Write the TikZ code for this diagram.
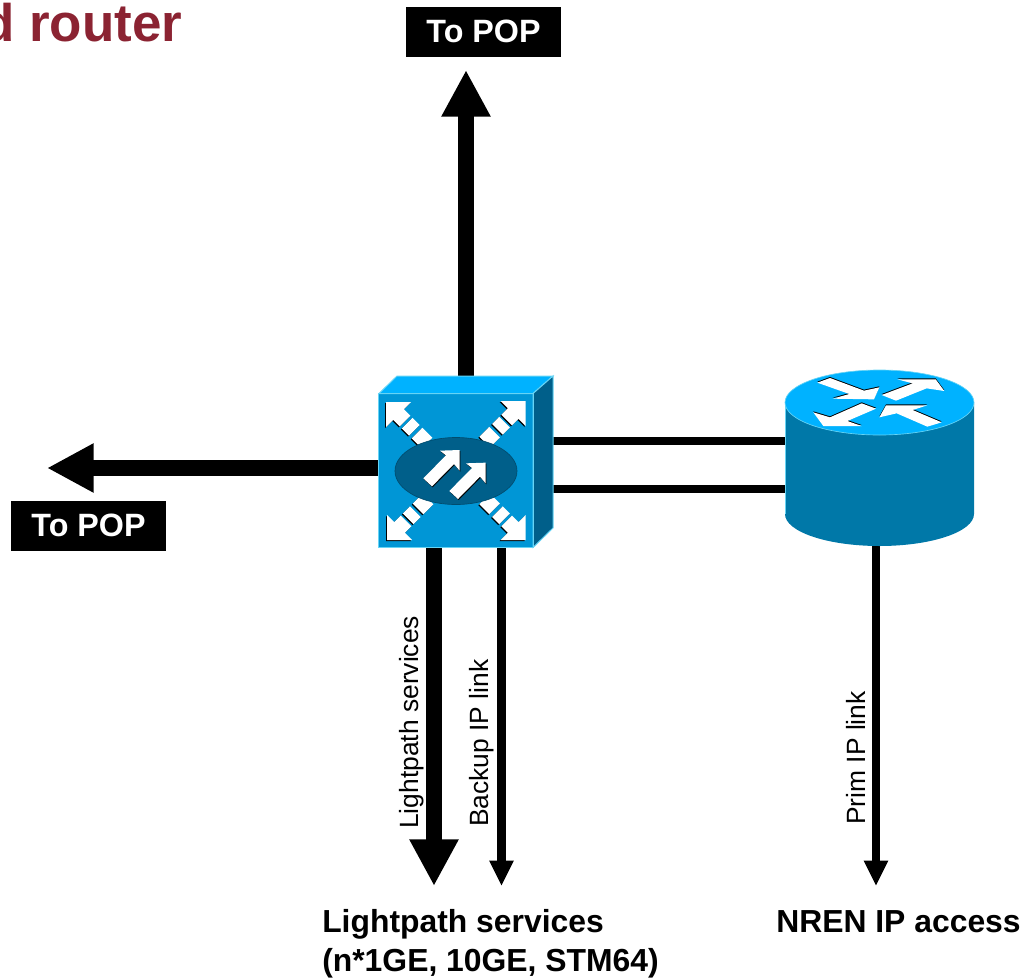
\documentclass[tikz,border=0pt]{standalone}
\usepackage{fontspec}
\setmainfont{Liberation Sans}
\usetikzlibrary{arrows.meta}
\definecolor{swfront}{HTML}{0096D6}
\definecolor{swtop}{HTML}{00B2FF}
\definecolor{swside}{HTML}{005F8A}
\definecolor{swedge}{HTML}{66D4F5}
\definecolor{rtbody}{HTML}{0078A8}
\definecolor{titlered}{HTML}{8B2332}
\tikzset{
    biglink/.style={line width=12pt,-{Triangle[length=35pt,width=34.5pt]}},
    smalllink/.style={line width=6.5pt,-{Triangle[length=19pt,width=17pt]}},
    plainlink/.style={line width=6pt},
    popbox/.style={fill=black,text=white,font=\bfseries\fontsize{24.2}{28}\selectfont,inner sep=0pt,minimum width=116.25pt,minimum height=37.5pt},
    biglabel/.style={anchor=base west,inner sep=0pt,font=\bfseries\fontsize{23.9}{28}\selectfont},
    sidelabel/.style={anchor=base west,inner sep=0pt,rotate=90,font=\fontsize{19.8}{24}\selectfont},
}
\newcommand{\cornerarrow}[3]{
    \begin{scope}[shift={(#1)},rotate=#2]
        \fill[#3] (0,0) -- (-17.7,17.7) -- (-17.7,7.5) -- (-27,7.5) -- (-27,-7.5) -- (-17.7,-7.5) -- (-17.7,-17.7) -- cycle;
        \fill[#3] (-30,-7.5) rectangle (-40,7.5);
        \fill[#3] (-44,-7.5) rectangle (-58,7.5);
    \end{scope}
}
\begin{document}
\begin{tikzpicture}[x=.75pt,y=-.75pt]
                \useasboundingbox (0,0) rectangle (1022,979);

                \node[anchor=base west,inner sep=0pt,text=titlered,font=\bfseries\fontsize{39.7}{46}\selectfont] (title) at (-18,41) {d router};

                \node[popbox] (poptop) at (483.5,32) {\raisebox{.75pt}{To POP}};
                \node[popbox] (popleft) at (88.5,526) {\raisebox{.75pt}{To POP}};

                \node[fill=swfront,inner sep=0pt,minimum size=115.5pt] (switch) at (456,470.5) {};
                \node[inner sep=0pt,minimum width=141.75pt,minimum height=132pt] (router) at (879.5,458) {};

                \coordinate (switchtop) at (466,376);
                \coordinate (uptip) at (466,70);
                \coordinate (lefttip) at (47,468);
                \coordinate (lighttip) at (434,886);
                \coordinate (backuptip) at (501.5,886);
                \coordinate (primtip) at (876,886);
                \coordinate (switchrighta) at (553,440.5);
                \coordinate (switchrightb) at (553,489);

                \draw[biglink] (switchtop) -- (uptip);
                \draw[biglink] (lefttip -| switch.west) -- (lefttip);
                \draw[biglink] (lighttip |- switch.south) -- (lighttip);
                \draw[smalllink] (backuptip |- switch.south) -- (backuptip);
                \draw[smalllink] (primtip |- router.south) -- (primtip);
                \draw[plainlink] (switchrighta) -- (switchrighta -| router.west);
                \draw[plainlink] (switchrightb) -- (switchrightb -| router.west);

                \draw[swedge,fill=swtop,line width=.75pt] (379,393.5) -- (397,376) -- (553,376) -- (533,393.5) -- cycle;
                \draw[swedge,fill=swside,line width=.75pt] (533,393.5) -- (553,376) -- (553,528) -- (533,547.5) -- cycle;
                \draw[swedge,line width=.75pt] (switch.north west) rectangle (switch.south east);

                \cornerarrow{385,403}{135}{black}
                \cornerarrow{386,402}{135}{white}
                \cornerarrow{524.7,402}{45}{black}
                \cornerarrow{525.7,401}{45}{white}
                \cornerarrow{386,541}{225}{black}
                \cornerarrow{387,540}{225}{white}
                \cornerarrow{524.7,541}{315}{black}
                \cornerarrow{525.7,540}{315}{white}

                \draw[fill=swside,draw=swside!80!black,line width=.5pt] (456,471) ellipse [x radius=61,y radius=33.5];

                \begin{scope}[shift={(360,360)},x=.25pt,y=-.25pt]
                    \foreach \dx/\dy/\col in {2/3/black,0/0/white,80/41/black,78/38/white}
                        \fill[\col,shift={(\dx*.25pt,-\dy*.25pt)}] (190,355) -- (258,286) -- (240,272) -- (299,270) -- (299,332) -- (282,312) -- (216,379) -- cycle;
                \end{scope}

                \fill[rtbody] (785,402.5) -- (785,514) arc [start angle=180,end angle=0,x radius=94.5,y radius=32] -- (974,402.5) -- cycle;
                \draw[swedge,line width=.5pt] (785,402.5) -- (785,514);
                \draw[swedge,fill=swtop,line width=.5pt] (879.5,402.5) ellipse [x radius=94.5,y radius=32.5];

                \begin{scope}[shift={(770,360)},x=.25pt,y=-.25pt]
                    \foreach \dy/\col in {3/black,0/white}{
                        \fill[\col,shift={(0,\dy*.25pt)}] (142,68) -- (180,54) -- (282,92) -- (328,82) -- (312,118) -- (188,116) -- (238,102) -- cycle;
                        \fill[\col,shift={(0,\dy*.25pt)}] (335,105) -- (428,70) -- (382,58) -- (497,58) -- (523,93) -- (470,85) -- (378,122) -- cycle;
                        \fill[\col,shift={(0,\dy*.25pt)}] (275,130) -- (318,146) -- (232,183) -- (275,198) -- (160,198) -- (130,157) -- (180,172) -- cycle;
                        \fill[\col,shift={(0,\dy*.25pt)}] (515,187) -- (472,200) -- (380,160) -- (328,172) -- (348,136) -- (472,136) -- (428,150) -- cycle;
                    }
                \end{scope}

                \node[sidelabel] (lightlabel) at (418,829) {Lightpath services};
                \node[sidelabel] (backuplabel) at (488,827) {Backup IP link};
                \node[sidelabel] (primlabel) at (865,825) {Prim IP link};

                \node[biglabel] (lightservices) at (322,932) {Lightpath services};
                \node[biglabel] (lightkinds) at (322,971) {(n*1GE, 10GE, STM64)};
                \node[biglabel] (nrenaccess) at (776,932) {NREN IP access};
            \end{tikzpicture}
\end{document}
